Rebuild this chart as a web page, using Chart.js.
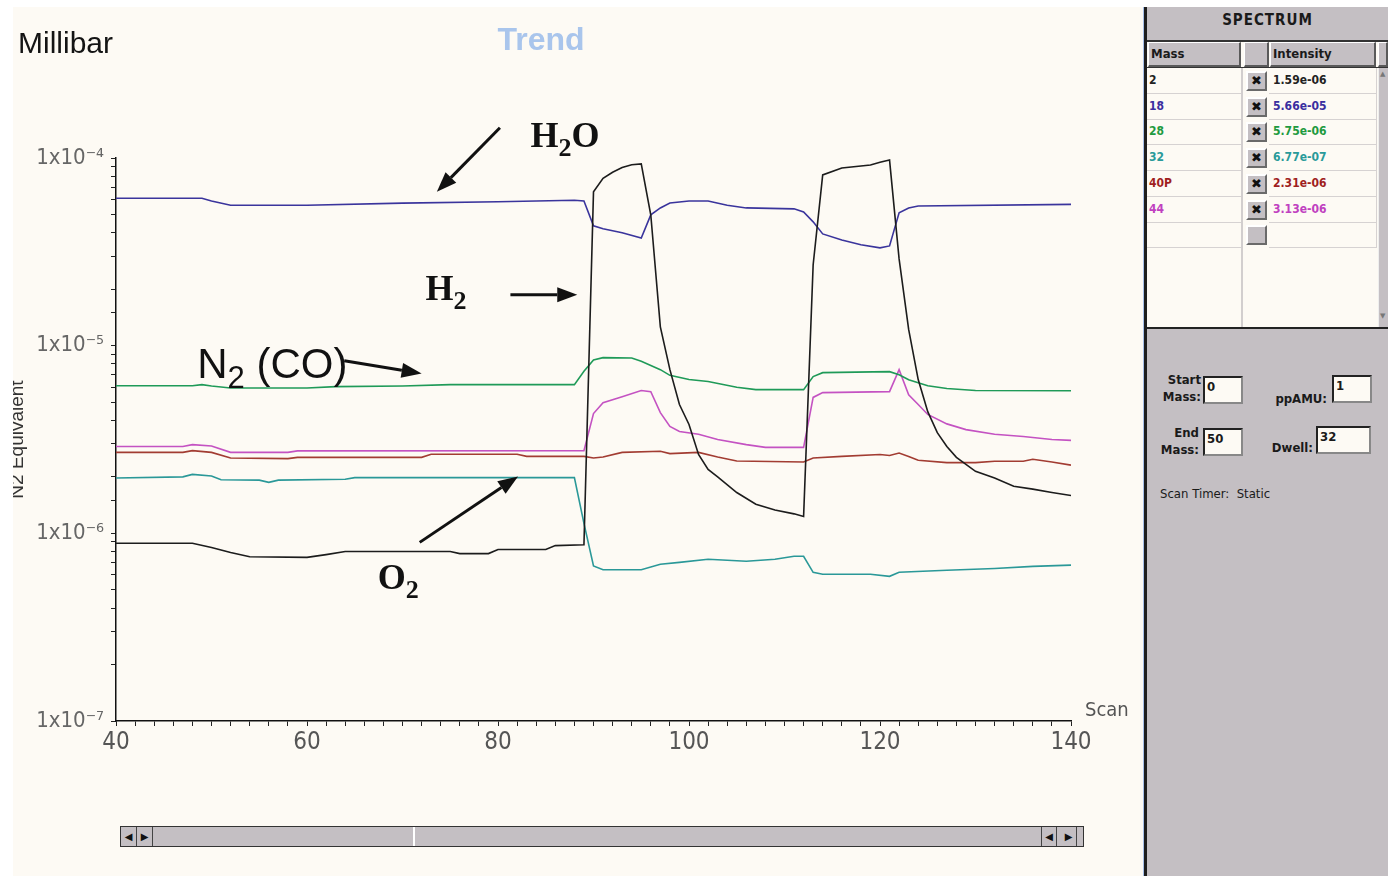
<!DOCTYPE html>
<html>
<head>
<meta charset="utf-8">
<title>Trend</title>
<script src="https://cdn.jsdelivr.net/npm/chart.js@4.4.1/dist/chart.umd.min.js"></script>
<style>
	body { margin: 0; width: 1388px; height: 876px; background: #fff; position: relative; overflow: hidden; font-family: "DejaVu Sans", sans-serif; }
	#plot { position: absolute; left: 13px; top: 7px; width: 1130px; height: 869px; background: #fdfaf4; overflow: hidden; }
	#chart { position: absolute; left: -13px; top: -7px; }
	#divider { position: absolute; left: 1143px; top: 7px; width: 3px; height: 869px; background: #1e1e1e; border-left: 1px solid #a8c0e8; }
	#side { position: absolute; left: 1147px; top: 7px; width: 241px; height: 869px; background: #c4bfc3; color: #1a1a1a; }
	#side div { position: absolute; box-sizing: border-box; }
	.title { left: 0; top: 0; width: 241px; height: 32px; text-align: center; font: bold 15px "DejaVu Sans Condensed", "DejaVu Sans", sans-serif; line-height: 27px; letter-spacing: 1px; }
	.table { left: 0; top: 33px; width: 241px; height: 289px; background: #fdfaf4; border-top: 2px solid #333; border-bottom: 2px solid #222; }
	.hcell { top: 35px; height: 25px; background: #c4bfc3; border-top: 1px solid #fff; border-left: 1px solid #fff; border-right: 2px solid #5a5a5a; border-bottom: 2px solid #5a5a5a; font: bold 13px "DejaVu Sans Condensed", sans-serif; line-height: 22px; padding-left: 2px; }
	.hline { left: 0; top: 60px; width: 241px; height: 1px; background: #333; }
	.sep { left: 94px; top: 61px; width: 2px; height: 259px; background: #d2cece; }
	.cell { height: 26px; border-bottom: 1px solid #d6d2d2; font: bold 12px "DejaVu Sans Condensed", sans-serif; line-height: 24px; padding-left: 2px; }
	.chk { width: 21px; height: 20px; background: #c4bfc3; border-top: 2px solid #fff; border-left: 2px solid #fff; border-right: 2px solid #6a6a6a; border-bottom: 2px solid #6a6a6a; text-align: center; font: bold 13px "DejaVu Sans", sans-serif; line-height: 16px; color: #111; }
	.vscroll { left: 231px; top: 61px; width: 10px; height: 259px; background: #c4bfc3; border-left: 1px solid #eee; }
	.lbl { font: bold 13px "DejaVu Sans Condensed", sans-serif; line-height: 17px; text-align: right; }
	.box { width: 40px; height: 28px; background: #fdfaf4; border: 2px solid #222; border-right-color: #888; border-bottom-color: #888; font: bold 13px "DejaVu Sans Condensed", sans-serif; padding: 1px 0 0 2px; }
	#hscroll { position: absolute; left: 120px; top: 826px; width: 964px; height: 21px; box-sizing: border-box; border: 1px solid #333; background: #c4bfc3; }
	#hscroll div { position: absolute; top: 0; height: 19px; box-sizing: border-box; }
	.btn { width: 16px; border-right: 1px solid #444; font: 10px "DejaVu Sans", sans-serif; line-height: 19px; text-align: center; color: #111; }
</style>
</head>
<body>
<div id="plot"><canvas id="chart" width="1144" height="876"></canvas></div>
<div id="divider"></div>
<div id="side"></div>
<div id="hscroll">
	<div class="btn" style="left:0">&#9664;</div>
	<div class="btn" style="left:16px">&#9654;</div>
	<div style="left:292px;width:628px;border-left:2px solid #fff"></div>
	<div class="btn" style="left:920px;border-left:1px solid #444">&#9664;</div>
	<div class="btn" style="left:940px">&#9654;</div>
</div>
<script>
// mass 2 (H2)
const h2Scans = [40, 48, 50, 52, 54, 60, 62, 64, 75, 76, 79, 80, 85, 86, 89, 90, 91, 92, 93, 94, 95, 96, 97, 98, 99, 100, 101, 102, 103, 105, 107, 109, 111, 112, 113, 114, 116, 119, 120, 121, 122, 123, 124, 125, 126, 127, 128, 130, 132, 134, 136, 138, 140];
const h2Values = [8.85e-7, 8.85e-7, 8.4e-7, 7.9e-7, 7.5e-7, 7.45e-7, 7.7e-7, 8.0e-7, 8.0e-7, 7.8e-7, 7.8e-7, 8.2e-7, 8.2e-7, 8.6e-7, 8.7e-7, 6.6e-5, 7.8e-5, 8.4e-5, 8.9e-5, 9.2e-5, 9.3e-5, 4.97e-5, 1.26e-5, 7.45e-6, 4.86e-6, 3.8e-6, 2.63e-6, 2.19e-6, 2.0e-6, 1.65e-6, 1.43e-6, 1.33e-6, 1.27e-6, 1.23e-6, 2.7e-5, 8.13e-5, 8.85e-5, 9.18e-5, 9.5e-5, 9.75e-5, 2.9e-5, 1.22e-5, 6.6e-6, 4.45e-6, 3.44e-6, 2.9e-6, 2.54e-6, 2.14e-6, 1.97e-6, 1.78e-6, 1.72e-6, 1.65e-6, 1.59e-6];

// mass 18 (H2O)
const h2oScans = [40, 49, 50, 52, 60, 70, 80, 88, 89, 90, 91, 93, 95, 96, 97, 98, 100, 102, 104, 106, 111, 112, 113, 114, 116, 118, 120, 121, 122, 123, 124, 140];
const h2oValues = [6.1e-5, 6.1e-5, 5.9e-5, 5.6e-5, 5.6e-5, 5.75e-5, 5.85e-5, 5.95e-5, 5.9e-5, 4.35e-5, 4.2e-5, 4.0e-5, 3.75e-5, 4.98e-5, 5.42e-5, 5.76e-5, 5.9e-5, 5.9e-5, 5.6e-5, 5.42e-5, 5.36e-5, 5.16e-5, 4.57e-5, 3.94e-5, 3.66e-5, 3.45e-5, 3.32e-5, 3.4e-5, 5.1e-5, 5.42e-5, 5.55e-5, 5.66e-5];

// mass 28 (N2 / CO)
const n2Scans = [40, 48, 49, 50, 52, 60, 63, 70, 75, 88, 89, 90, 91, 94, 95, 97, 98, 100, 102, 105, 107, 112, 113, 114, 121, 122, 123, 125, 127, 130, 140];
const n2Values = [6.12e-6, 6.12e-6, 6.2e-6, 6.1e-6, 5.95e-6, 5.95e-6, 6.05e-6, 6.1e-6, 6.2e-6, 6.2e-6, 7.3e-6, 8.4e-6, 8.63e-6, 8.6e-6, 8.25e-6, 7.45e-6, 6.95e-6, 6.6e-6, 6.44e-6, 6.0e-6, 5.83e-6, 5.83e-6, 6.84e-6, 7.18e-6, 7.27e-6, 7.0e-6, 6.59e-6, 6.12e-6, 5.91e-6, 5.77e-6, 5.75e-6];

// mass 32 (O2)
const o2Scans = [40, 47, 48, 50, 51, 55, 56, 57, 64, 65, 88, 89, 90, 91, 95, 97, 99, 102, 106, 109, 111, 112, 113, 114, 119, 121, 122, 127, 132, 136, 140];
const o2Values = [1.97e-6, 2.0e-6, 2.06e-6, 2.02e-6, 1.93e-6, 1.92e-6, 1.87e-6, 1.92e-6, 1.94e-6, 1.98e-6, 1.98e-6, 1.13e-6, 6.7e-7, 6.4e-7, 6.4e-7, 6.84e-7, 7.0e-7, 7.28e-7, 7.1e-7, 7.28e-7, 7.55e-7, 7.55e-7, 6.2e-7, 6.05e-7, 6.05e-7, 5.9e-7, 6.2e-7, 6.36e-7, 6.5e-7, 6.67e-7, 6.77e-7];

// mass 40 (Ar)
const arScans = [40, 47, 48, 50, 52, 58, 59, 72, 73, 82, 83, 89, 90, 91, 93, 97, 98, 101, 103, 105, 112, 113, 116, 120, 121, 122, 123, 124, 127, 130, 132, 135, 136, 138, 140];
const arValues = [2.70e-6, 2.70e-6, 2.76e-6, 2.70e-6, 2.52e-6, 2.50e-6, 2.54e-6, 2.54e-6, 2.64e-6, 2.64e-6, 2.57e-6, 2.57e-6, 2.52e-6, 2.55e-6, 2.70e-6, 2.74e-6, 2.66e-6, 2.70e-6, 2.55e-6, 2.43e-6, 2.40e-6, 2.52e-6, 2.57e-6, 2.63e-6, 2.60e-6, 2.68e-6, 2.57e-6, 2.45e-6, 2.38e-6, 2.38e-6, 2.42e-6, 2.42e-6, 2.48e-6, 2.40e-6, 2.31e-6];

// mass 44 (CO2)
const co2Scans = [40, 47, 48, 50, 52, 58, 59, 89, 90, 91, 93, 95, 96, 97, 98, 99, 101, 103, 106, 108, 112, 113, 114, 121, 122, 123, 124, 125, 127, 129, 132, 135, 138, 140];
const co2Values = [2.90e-6, 2.90e-6, 2.97e-6, 2.92e-6, 2.70e-6, 2.70e-6, 2.75e-6, 2.76e-6, 4.35e-6, 4.97e-6, 5.35e-6, 5.77e-6, 5.69e-6, 4.4e-6, 3.71e-6, 3.49e-6, 3.37e-6, 3.16e-6, 2.97e-6, 2.87e-6, 2.87e-6, 5.3e-6, 5.62e-6, 5.69e-6, 7.45e-6, 5.48e-6, 4.86e-6, 4.3e-6, 3.83e-6, 3.57e-6, 3.37e-6, 3.28e-6, 3.16e-6, 3.13e-6];

const massLabels = ["2", "18", "28", "32", "40P", "44"];
const yTickPowers = [-7, -6, -5, -4];

// chemical labels: "_" marks a subscript character
const noteLabels = [
	{ text: "H_2O", scan: 83.4, value: 1.14e-4, serif: true },
	{ text: "H_2", scan: 72.4, value: 1.76e-5, serif: true },
	{ text: "N_2 (CO)", scan: 48.5, value: 6.76e-6, serif: false },
	{ text: "O_2", scan: 67.4, value: 5.04e-7, serif: true },
];
const noteArrows = [
	{ from: [80.2, 1.45e-4], to: [73.6, 6.6e-5] },
	{ from: [81.3, 1.87e-5], to: [88.3, 1.87e-5] },
	{ from: [63.9, 8.3e-6], to: [72.0, 7.1e-6] },
	{ from: [71.8, 8.95e-7], to: [82.1, 2.01e-6] },
];

const seriesColors = ["#1c1c1c", "#3a349c", "#1f9a58", "#2a9898", "#a23c32", "#c452c2"];
const tableColors = ["#222", "#3a2fa0", "#1f9a40", "#2a9a9a", "#a01e1e", "#c040c0"];

function toPoints(xs, ys) {
	return xs.map((x, i) => ({ x: x, y: ys[i] }));
}

const allSeries = [
	[h2Scans, h2Values],
	[h2oScans, h2oValues],
	[n2Scans, n2Values],
	[o2Scans, o2Values],
	[arScans, arValues],
	[co2Scans, co2Values],
];

const sup = { "-": "\u207B", "0": "\u2070", "1": "\u00B9", "2": "\u00B2", "3": "\u00B3", "4": "\u2074", "5": "\u2075", "6": "\u2076", "7": "\u2077", "8": "\u2078", "9": "\u2079" };
function powLabel(p) {
	return "1x10" + String(p).split("").map((c) => sup[c]).join("");
}

function drawArrow(ctx, x0, y0, x1, y1) {
	const ang = Math.atan2(y1 - y0, x1 - x0);
	const head = 20, half = 7.5;
	const bx = x1 - Math.cos(ang) * head, by = y1 - Math.sin(ang) * head;
	ctx.beginPath();
	ctx.moveTo(x0, y0);
	ctx.lineTo(bx, by);
	ctx.stroke();
	ctx.beginPath();
	ctx.moveTo(x1, y1);
	ctx.lineTo(bx + Math.sin(ang) * half, by - Math.cos(ang) * half);
	ctx.lineTo(bx - Math.sin(ang) * half, by + Math.cos(ang) * half);
	ctx.closePath();
	ctx.fill();
}

function drawChem(ctx, text, x, y, serif) {
	const fam = serif ? '"Liberation Serif", "DejaVu Serif", serif' : '"Liberation Sans", Arial, sans-serif';
	const weight = serif ? "bold " : "";
	const big = serif ? 36 : 42, small = serif ? 26 : 31, drop = serif ? 9 : 10;
	let cx = x;
	for (let i = 0; i < text.length; i++) {
		let ch = text[i];
		if (ch === "_") {
			ch = text[++i];
			ctx.font = weight + small + "px " + fam;
			ctx.fillText(ch, cx, y + drop);
		} else {
			ctx.font = weight + big + "px " + fam;
			ctx.fillText(ch, cx, y);
		}
		cx += ctx.measureText(ch).width;
	}
}

const overlay = {
	id: "overlay",
	afterDraw(chart) {
		const ctx = chart.ctx;
		const xs = chart.scales.x, ys = chart.scales.y;
		ctx.save();
		ctx.textBaseline = "middle";
		ctx.fillStyle = "#141414";
		ctx.font = '30px "Liberation Sans", Arial, sans-serif';
		ctx.fillText("Millibar", 18, 45);
		ctx.fillStyle = "#a9c5ec";
		ctx.font = 'bold 32px "Liberation Sans", Arial, sans-serif';
		ctx.textAlign = "center";
		ctx.fillText("Trend", 541, 41);
		ctx.textAlign = "left";
		ctx.fillStyle = "#555";
		ctx.font = '20px "Liberation Sans Narrow", "DejaVu Sans Condensed", sans-serif';
		ctx.fillText("Scan", xs.right + 14, ys.bottom - 10);

		ctx.strokeStyle = "#111";
		ctx.fillStyle = "#111";
		ctx.lineWidth = 3;
		noteArrows.forEach((a) => {
			drawArrow(ctx,
				xs.getPixelForValue(a.from[0]), ys.getPixelForValue(a.from[1]),
				xs.getPixelForValue(a.to[0]), ys.getPixelForValue(a.to[1]));
		});
		ctx.textBaseline = "alphabetic";
		noteLabels.forEach((l) => {
			drawChem(ctx, l.text, xs.getPixelForValue(l.scan), ys.getPixelForValue(l.value), l.serif);
		});
		ctx.restore();
	},
};

const narrow = '"Liberation Sans Narrow", "DejaVu Sans Condensed", sans-serif';

new Chart(document.getElementById("chart"), {
	type: "line",
	data: {
		datasets: allSeries.map((s, i) => ({
			label: massLabels[i],
			data: toPoints(s[0], s[1]),
			borderColor: seriesColors[i],
			borderWidth: 1.6,
			pointRadius: 0,
			tension: 0,
			fill: false,
		})),
	},
	options: {
		responsive: false,
		animation: false,
		layout: { padding: { left: 0, top: 158, right: 73, bottom: 115 } },
		plugins: {
			legend: { display: false },
			tooltip: { enabled: false },
		},
		scales: {
			x: {
				type: "linear",
				min: 40,
				max: 140,
				afterFit: (s) => { s.height = 40; },
				border: { color: "#111", width: 1.5 },
				grid: { drawOnChartArea: false, tickLength: 5, color: "#222" },
				ticks: {
					stepSize: 2,
					autoSkip: false,
					maxRotation: 0,
					padding: 2,
					color: "#555",
					font: { family: narrow, size: 24 },
					callback: (v) => (v % 20 === 0 ? String(v) : ""),
				},
			},
			y: {
				type: "logarithmic",
				min: 1e-7,
				max: 1e-4,
				afterFit: (s) => { s.width = 116; },
				border: { color: "#111", width: 1.5 },
				grid: { drawOnChartArea: false, tickLength: 5, color: "#222" },
				title: {
					display: true,
					text: "N2 Equivalent",
					color: "#333",
					font: { family: '"Liberation Sans", Arial, sans-serif', size: 19 },
					padding: { top: 6, bottom: 0 },
				},
				ticks: {
					autoSkip: false,
					padding: 7,
					color: "#666",
					font: { family: narrow, size: 22 },
					callback: (v) => {
						const p = Math.round(Math.log10(v));
						return Math.abs(Math.log10(v) - p) < 1e-6 && yTickPowers.includes(p) ? powLabel(p) : "";
					},
				},
			},
		},
	},
	plugins: [overlay],
});

// side panel
function fmtIntensity(v) {
	return v.toExponential(2).replace(/e([+-])(\d)$/, "e$10$2");
}

const side = document.getElementById("side");
let html = '<div class="title">SPECTRUM</div><div class="table"></div>';
html += '<div class="hcell" style="left:1px;width:93px">Mass</div>';
html += '<div class="hcell" style="left:97px;width:25px"></div>';
html += '<div class="hcell" style="left:123px;width:106px">Intensity</div>';
html += '<div class="hcell" style="left:231px;width:10px"></div>';
html += '<div class="hline"></div><div class="sep"></div>';
html += '<div class="vscroll"><div style="left:1px;top:2px;font-size:7px;color:#777">&#9650;</div><div style="left:1px;top:244px;font-size:7px;color:#777">&#9660;</div></div>';
for (let i = 0; i < 7; i++) {
	const top = 61 + i * 25.7;
	const has = i < massLabels.length;
	const color = has ? tableColors[i] : "#222";
	html += `<div class="cell" style="left:0;top:${top}px;width:94px;color:${color}">${has ? massLabels[i] : ""}</div>`;
	html += `<div class="cell" style="left:122px;top:${top}px;width:108px;border-right:1px solid #d6d2d2;color:${color};padding-left:4px">${has ? fmtIntensity(allSeries[i][1][allSeries[i][1].length - 1]) : ""}</div>`;
	html += `<div class="chk" style="left:99px;top:${top + 3}px">${has ? "\u2716" : ""}</div>`;
}
html += '<div class="lbl" style="left:0;top:364px;width:54px">Start<br>Mass:</div>';
html += '<div class="box" style="left:56px;top:369px">0</div>';
html += '<div class="lbl" style="left:108px;top:383px;width:72px">ppAMU:</div>';
html += '<div class="box" style="left:185px;top:368px">1</div>';
html += '<div class="lbl" style="left:0;top:417px;width:52px">End<br>Mass:</div>';
html += '<div class="box" style="left:56px;top:421px">50</div>';
html += '<div class="lbl" style="left:108px;top:432px;width:58px">Dwell:</div>';
html += '<div class="box" style="left:169px;top:419px;width:55px">32</div>';
html += '<div class="lbl" style="left:13px;top:478px;width:200px;text-align:left;font-weight:normal">Scan Timer:&nbsp; Static</div>';
side.innerHTML = html;
</script>
</body>
</html>
